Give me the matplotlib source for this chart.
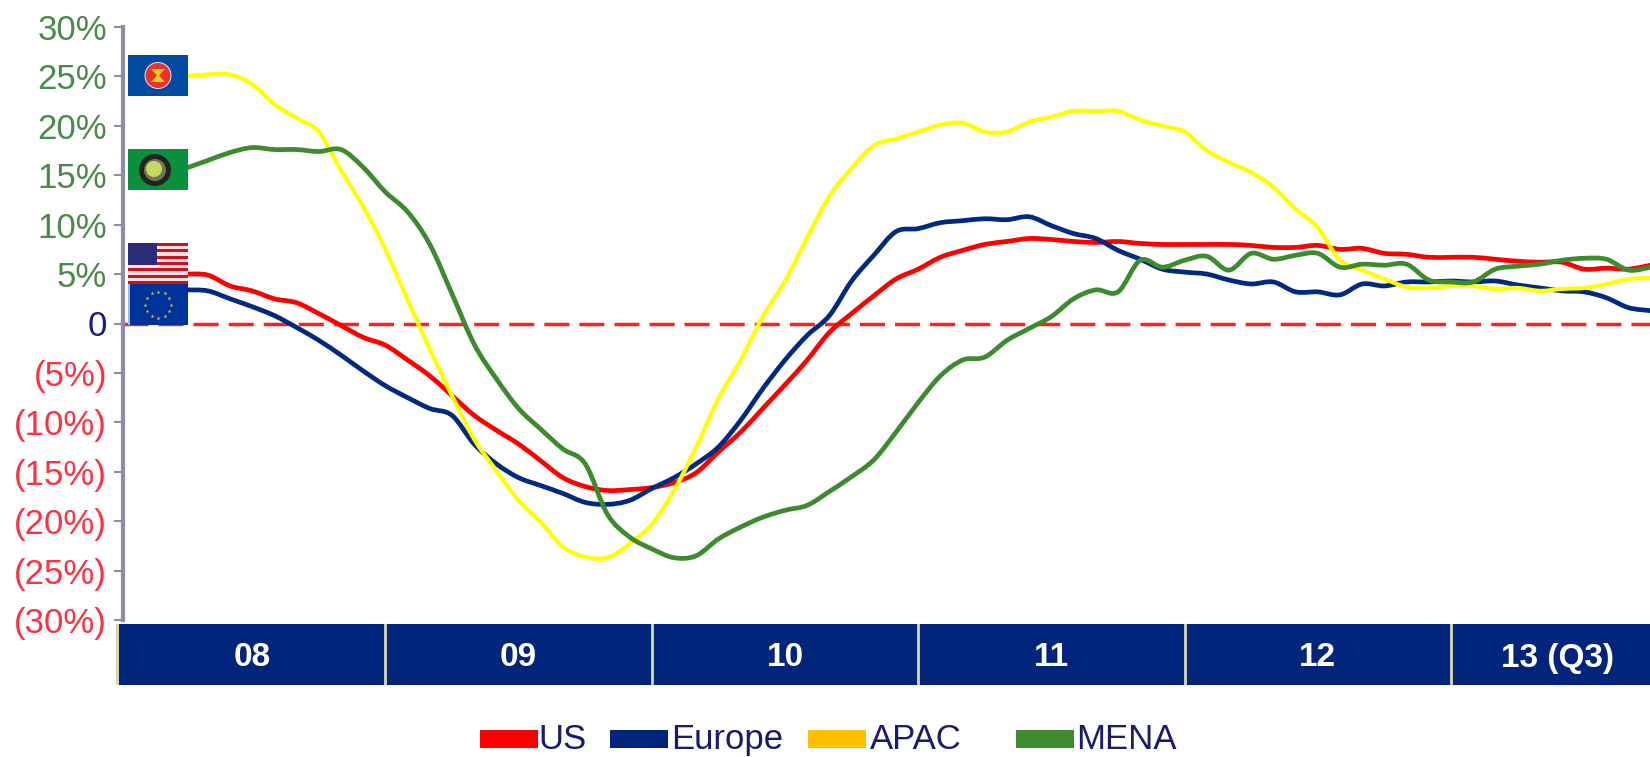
import numpy as np
import matplotlib.pyplot as plt
from matplotlib.patches import Rectangle, Circle, Polygon, PathPatch
from matplotlib.path import Path

plt.rcParams['font.family'] = ['Liberation Sans', 'DejaVu Sans']

# months since Jan 2008, Apr 2008 .. Oct 2013
months = np.arange(3, 70)

us = [5.0, 4.9, 3.8, 3.3, 2.5, 2.1, 1.0, -0.2, -1.4, -2.2,
      -3.7, -5.3, -7.3, -9.3, -10.8, -12.2, -13.9, -15.6, -16.5, -16.9,
      -16.8, -16.6, -16.1, -15.1, -13.0, -11.0, -8.6, -6.2, -3.7, -0.9,
      1.0, 2.8, 4.5, 5.5, 6.7, 7.4, 8.0, 8.3, 8.6, 8.5,
      8.3, 8.2, 8.3, 8.1, 8.0, 8.0, 8.0, 8.0, 7.9, 7.7,
      7.7, 7.9, 7.5, 7.6, 7.1, 7.0, 6.7, 6.7, 6.7, 6.5,
      6.3, 6.2, 6.2, 5.5, 5.6, 5.5, 5.9]
europe = [3.4, 3.3, 2.5, 1.7, 0.8, -0.4, -1.7, -3.2, -4.8, -6.3,
          -7.5, -8.6, -9.3, -12.2, -14.2, -15.6, -16.4, -17.2, -18.1, -18.3,
          -17.9, -16.7, -15.6, -14.2, -12.5, -9.8, -6.6, -3.7, -1.2, 0.8,
          4.3, 6.9, 9.3, 9.6, 10.2, 10.4, 10.6, 10.5, 10.8, 9.9,
          9.1, 8.6, 7.4, 6.5, 5.5, 5.2, 5.0, 4.4, 4.0, 4.2,
          3.2, 3.2, 2.9, 4.0, 3.8, 4.2, 4.2, 4.3, 4.2, 4.3,
          3.9, 3.6, 3.3, 3.2, 2.6, 1.6, 1.3]
apac = [25.0, 25.2, 25.2, 24.2, 22.2, 20.8, 19.4, 15.5, 11.8, 7.5,
        2.4, -2.6, -7.3, -11.7, -14.9, -17.9, -20.1, -22.6, -23.6, -23.7,
        -22.3, -20.3, -16.9, -12.5, -7.6, -3.7, 0.7, 4.3, 8.7, 12.9,
        15.7, 18.0, 18.7, 19.4, 20.1, 20.3, 19.4, 19.4, 20.4, 20.9,
        21.5, 21.5, 21.5, 20.6, 20.0, 19.4, 17.5, 16.3, 15.3, 13.8,
        11.6, 9.7, 6.4, 5.4, 4.5, 3.7, 3.6, 3.8, 3.8, 3.5,
        3.6, 3.3, 3.5, 3.6, 4.0, 4.5, 4.6]
mena = [15.7, 16.5, 17.3, 17.8, 17.6, 17.6, 17.4, 17.6, 15.8, 13.3,
        11.3, 8.0, 3.0, -2.1, -5.6, -8.6, -10.7, -12.7, -14.2, -19.3,
        -21.6, -22.8, -23.7, -23.5, -21.8, -20.6, -19.6, -18.9, -18.4, -17.0,
        -15.5, -13.8, -11.0, -8.0, -5.3, -3.7, -3.4, -1.7, -0.5, 0.7,
        2.5, 3.4, 3.2, 6.4, 5.7, 6.4, 6.8, 5.4, 7.1, 6.5,
        6.9, 7.1, 5.7, 6.0, 5.9, 6.0, 4.4, 4.2, 4.2, 5.5,
        5.8, 6.0, 6.4, 6.6, 6.5, 5.4, 5.7]

yticks = [30, 25, 20, 15, 10, 5, 0, -5, -10, -15, -20, -25, -30]
ylabels = ['30%', '25%', '20%', '15%', '10%', '5%', '0', '(5%)', '(10%)', '(15%)', '(20%)', '(25%)', '(30%)']
years = ['08', '09', '10', '11', '12', '13 (Q3)']
year_starts = [0, 12, 24, 36, 48, 60]
year_ends = [12, 24, 36, 48, 60, 72]

W, H = 1650, 757
NAVY = '#00257a'
GREEN = '#3d8a2f'


def px_axes(fig, left, top, right, bottom):
    return fig.add_axes([left / W, 1 - bottom / H, (right - left) / W, (bottom - top) / H])


def smooth_line(ax, x, y, color, lw, zorder):
    # the original is a smoothed excel line, so bezier segments through the points
    pts = np.column_stack([x, y])
    prev = np.vstack([pts[0], pts[:-1]])
    nxt = np.vstack([pts[1:], pts[-1]])
    tang = (nxt - prev) / 6
    verts = [pts[0]]
    codes = [Path.MOVETO]
    for i in range(len(pts) - 1):
        verts += [pts[i] + tang[i], pts[i + 1] - tang[i + 1], pts[i + 1]]
        codes += [Path.CURVE4] * 3
    ax.add_patch(PathPatch(Path(verts, codes), fill=False, edgecolor=color, lw=lw,
                           zorder=zorder, capstyle='butt', joinstyle='round'))


def draw_flags(ov):
    # asean
    ov.add_patch(Rectangle((128, 55), 60, 41, color='#004a9f', lw=0))
    ov.add_patch(Circle((158, 75.5), 13.5, color='#e8e8e8', lw=0))
    ov.add_patch(Circle((158, 75.5), 12.5, color='#e8322c', lw=0))
    ov.add_patch(Polygon([(151, 69), (165, 69), (159, 75.5), (165, 82), (151, 82), (157, 75.5)],
                         color='#f8c820', lw=0))
    # gcc
    ov.add_patch(Rectangle((128, 149), 60, 41, color='#0a8f3c', lw=0))
    ov.add_patch(Circle((155, 170), 16, color='#222222', lw=0))
    ov.add_patch(Circle((155, 170), 11, color='#6a7a50', lw=0))
    ov.add_patch(Circle((154, 169), 8, color='#c8d860', lw=0))
    # us
    for i in range(13):
        c = '#c4161c' if i % 2 == 0 else '#f8e0e0'
        ov.add_patch(Rectangle((128, 243 + i * 41 / 13), 60, 41 / 13 + 0.3, color=c, lw=0))
    ov.add_patch(Rectangle((128, 243), 29, 22, color='#2b2c78', lw=0))
    # eu
    ov.add_patch(Rectangle((128, 284), 3, 41, color='#a8bce0', lw=0))
    ov.add_patch(Rectangle((130, 284), 58, 41, color='#003399', lw=0))
    ang = np.deg2rad(np.arange(0, 360, 30))
    ov.scatter(158 + 13 * np.cos(ang), 304.5 + 13 * np.sin(ang), s=9, marker='*', color='#d8c030', lw=0)


def main():
    fig = plt.figure(figsize=(W / 100, H / 100), dpi=100)

    ax = px_axes(fig, 123, 27, W, 620)
    x0 = (123 - 119) / 22.2
    x1 = (W - 119) / 22.2
    ax.set_xlim(x0, x1)
    ax.set_ylim(-30, 30)

    ax.axhline(0, color='#ff2020', lw=2.5, dashes=(7.2, 2.9), zorder=1)
    smooth_line(ax, months, us, '#ff0000', 3.4, 2)
    smooth_line(ax, months, europe, '#002a80', 3.4, 3)
    smooth_line(ax, months, apac, '#ffff00', 3.0, 4)
    smooth_line(ax, months, mena, GREEN, 3.4, 5)

    for s in ['top', 'right', 'bottom']:
        ax.spines[s].set_visible(False)
    ax.spines['left'].set_color('#8c8cab')
    ax.spines['left'].set_linewidth(3)
    ax.set_xticks([])
    ax.set_yticks(yticks)
    ax.set_yticklabels(ylabels, fontsize=25)
    ax.tick_params(axis='y', length=6.5, width=1.5, color='#8c8cab', pad=5)
    for lab, v in zip(ax.get_yticklabels(), yticks):
        if v > 0:
            lab.set_color('#4a8a4a')
        elif v == 0:
            lab.set_color('#1a1a8a')
        else:
            lab.set_color('#ff3040')

    # year band, same x scale as the chart
    band = px_axes(fig, 119, 624, W, 685)
    band.set_xlim(0, x1)
    band.set_ylim(0, 1)
    band.axis('off')
    for name, a, b in zip(years, year_starts, year_ends):
        band.axvspan(a, b, color=NAVY, lw=0)
        if a > 0:
            band.axvline(a, color='#d8d8b0', lw=2)
        band.text((a + min(b, x1 + 0.6)) / 2, 0.5, name, color='white', fontsize=24,
                  fontweight='bold', ha='center', va='center_baseline')

    # overlay in pixels for the flags and the legend
    ov = fig.add_axes([0, 0, 1, 1], facecolor='none')
    ov.set_xlim(0, W)
    ov.set_ylim(H, 0)
    ov.axis('off')
    ov.add_patch(Rectangle((116, 624), 3, 61, color='#d8d8b0', lw=0))
    draw_flags(ov)

    legend = [('US', '#ff0000', 480, 538), ('Europe', NAVY, 610, 671),
              ('APAC', '#ffc000', 808, 870), ('MENA', GREEN, 1016, 1076)]
    for name, c, sx, tx in legend:
        ov.add_patch(Rectangle((sx, 730), 58, 18, color=c, lw=0))
        ov.text(tx, 749, name, color='#1a1a6e', fontsize=25, ha='left', va='baseline')

    plt.savefig('out.png', dpi=100)


if __name__ == '__main__':
    main()
